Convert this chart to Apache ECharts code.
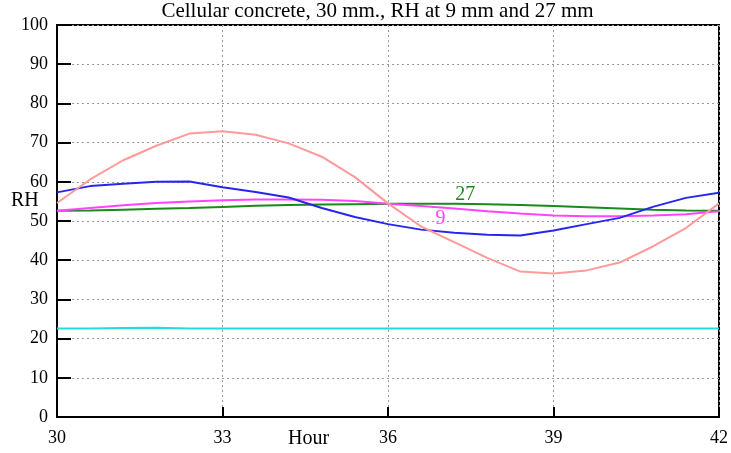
<!DOCTYPE html>
<html><head><meta charset="utf-8">
<script src="https://cdn.jsdelivr.net/npm/echarts@6/dist/echarts.min.js"></script>
<style>html,body{margin:0;padding:0;background:#fff}#c{width:731px;height:453px}</style>
</head><body><div id="c"></div>
<script>
const hours = [30,30.6,31.2,31.8,32.4,33,33.6,34.2,34.8,35.4,36,36.6,37.2,37.8,38.4,39,39.6,40.2,40.8,41.4,42];
const pinkRH = [54.6,60.6,65.5,69.2,72.3,72.9,72.0,69.8,66.4,61.2,54.5,48.6,44.6,40.6,37.1,36.6,37.4,39.4,43.5,48.2,54.5];
const blueRH = [57.3,58.9,59.5,60.0,60.1,58.6,57.4,56.0,53.3,51.0,49.2,47.8,47.0,46.5,46.3,47.6,49.2,50.8,53.6,55.9,57.2];
const rh27 = [52.6,52.7,52.9,53.1,53.3,53.6,53.9,54.1,54.2,54.3,54.4,54.4,54.4,54.3,54.1,53.8,53.5,53.2,52.9,52.7,52.6];
const rh9 = [52.6,53.3,54.0,54.6,55.0,55.3,55.5,55.5,55.4,55.1,54.4,53.8,53.2,52.5,51.9,51.4,51.2,51.2,51.4,51.7,52.5];
const cyanRH = [22.6,22.6,22.7,22.75,22.6,22.6,22.6,22.6,22.6,22.6,22.6,22.6,22.6,22.6,22.6,22.6,22.6,22.6,22.6,22.6,22.6];
const xTicks = [30,33,36,39,42];
const yTicks = [0,10,20,30,40,50,60,70,80,90,100];
const curveLabels = [{name:'27', at:[37.4,56.8]}, {name:'9', at:[36.95,50.7]}];
const title = 'Cellular concrete, 30 mm., RH at 9 mm and 27 mm';

const pair = v => hours.map((h,i)=>[h,v[i]]);
const font = '"Liberation Serif","DejaVu Serif",serif';
const mkLine = (name, data, color) => ({name, type:'line', data:pair(data), symbol:'none',
    lineStyle:{color, width:2}, itemStyle:{color}, animation:false, z:3});
const mkLabel = (lab, color) => ({type:'scatter', data:[lab.at], symbol:'circle', symbolSize:0,
    itemStyle:{color, opacity:1}, z:5, silent:true,
    label:{show:true, position:'inside', formatter:lab.name, color, opacity:1,
      textBorderWidth:0, textShadowBlur:0, fontFamily:font, fontSize:20}});
const chart = echarts.init(document.getElementById('c'), null, {renderer:'canvas'});
chart.setOption({
  animation:false,
  backgroundColor:'#fff',
  grid:{left:57, right:9, top:25, bottom:36, show:true, borderColor:'#000', borderWidth:2, backgroundColor:'transparent'},
  xAxis:{type:'value', min:xTicks[0], max:xTicks[xTicks.length-1], interval:3,
    axisLine:{show:true, lineStyle:{color:'#000', width:2}},
    axisTick:{show:true, inside:true, length:10, lineStyle:{color:'#000', width:2}},
    axisLabel:{color:'#000', fontFamily:font, fontSize:18, margin:12},
    splitLine:{show:true, lineStyle:{color:'#999', type:[2,3], width:1}}},
  yAxis:{type:'value', min:yTicks[0], max:yTicks[yTicks.length-1], interval:10,
    axisLine:{show:true, lineStyle:{color:'#000', width:2}},
    axisTick:{show:true, inside:true, length:14, lineStyle:{color:'#000', width:2}},
    axisLabel:{color:'#000', fontFamily:font, fontSize:18, margin:9},
    splitLine:{show:true, lineStyle:{color:'#999', type:[2,3], width:1}}},
  graphic:[
    {type:'text', x:377.5, y:1, style:{text:title, font:'21px '+font, fill:'#000', textAlign:'center', textVerticalAlign:'top'}},
    {type:'text', x:11, y:191, style:{text:'RH', font:'20px '+font, fill:'#000'}},
    {type:'text', x:288, y:429, style:{text:'Hour', font:'20px '+font, fill:'#000'}}
  ],
  series:[
    mkLine('cyan', cyanRH, '#22dddd'),
    mkLine('27 mm', rh27, '#1a8a1a'),
    mkLine('9 mm', rh9, '#ff44ff'),
    mkLine('blue', blueRH, '#2626ee'),
    mkLine('pink', pinkRH, '#ff9a9a'),
    mkLabel(curveLabels[0], '#1a8a1a'),
    mkLabel(curveLabels[1], '#ff44ff')
  ]
});
</script></body></html>
